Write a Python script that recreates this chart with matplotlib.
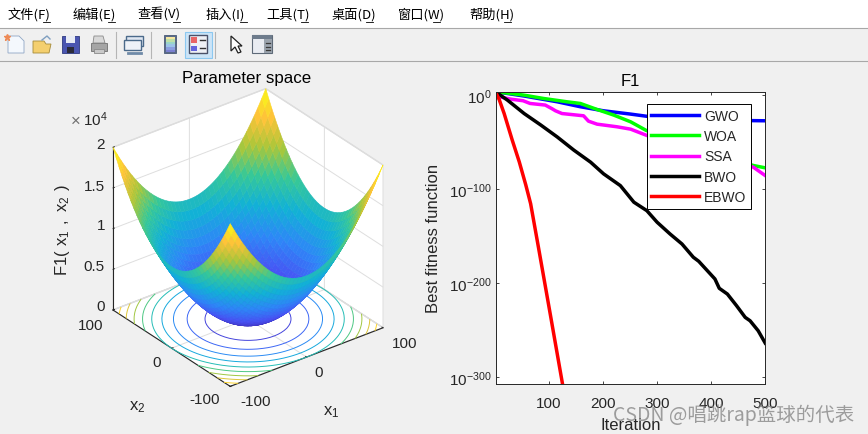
import numpy as np
import matplotlib
matplotlib.use('Agg')
import matplotlib.pyplot as plt
import matplotlib.patches as mpatches
from matplotlib.colors import LinearSegmentedColormap
from matplotlib.ticker import FixedLocator, FixedFormatter, NullLocator
from mpl_toolkits.mplot3d import proj3d

plt.rcParams['font.family'] = ['Liberation Sans', 'DejaVu Sans']
plt.rcParams['mathtext.default'] = 'regular'

# ---------- data ----------
MENU_LABELS = ['文件(F)', '编辑(E)', '查看(V)', '插入(I)', '工具(T)', '桌面(D)', '窗口(W)', '帮助(H)']

# surface: grid positions and the squared profile read along one axis
GRID_X = [-100, -95, -90, -85, -80, -75, -70, -65, -60, -55, -50, -45, -40, -35, -30, -25, -20, -15, -10, -5, 0,
          5, 10, 15, 20, 25, 30, 35, 40, 45, 50, 55, 60, 65, 70, 75, 80, 85, 90, 95, 100]
PROFILE_Z = [10000, 9025, 8100, 7225, 6400, 5625, 4900, 4225, 3600, 3025, 2500, 2025, 1600, 1225, 900, 625, 400, 225, 100, 25, 0,
             25, 100, 225, 400, 625, 900, 1225, 1600, 2025, 2500, 3025, 3600, 4225, 4900, 5625, 6400, 7225, 8100, 9025, 10000]
CONTOUR_LEVELS = [2000, 4000, 6000, 8000, 10000, 12000, 14000, 16000, 18000]

# convergence curves: iteration and log10(best fitness)
GWO_ITER = [1, 54, 115, 158, 201, 251, 287, 330, 372, 440, 500]
GWO_LOG = [3.6, -1.0, -7.1, -12.4, -16.7, -20.2, -23.0, -24.6, -25.9, -26.9, -27.3]
WOA_ITER = [1, 53, 90, 133, 158, 189, 220, 251, 280, 325, 372, 425, 478, 500]
WOA_LOG = [3.6, 0.0, -3.6, -7.1, -8.9, -15.3, -21.3, -28.4, -37.6, -46.0, -55.3, -65.0, -74.8, -77.3]
SSA_ITER = [1, 29, 52, 65, 93, 105, 112, 124, 164, 173, 189, 226, 251, 281, 325, 372, 425, 478, 500]
SSA_LOG = [-1.0, -4.3, -6.0, -8.9, -10.6, -14.3, -16.7, -19.6, -22.0, -27.7, -30.9, -33.7, -36.2, -42.9, -50.0, -58.9, -67.5, -76.6, -85.5]
BWO_ITER = [1, 23, 54, 85, 115, 146, 177, 201, 232, 257, 281, 300, 324, 346, 367, 377, 407, 415, 430, 447, 463, 472, 487, 500]
BWO_LOG = [3.5, -5.3, -19.6, -31.9, -44.4, -58.5, -71.3, -83.7, -96.2, -113.8, -122.8, -135.1, -147.6, -158.2, -172.3, -176.6,
           -195.4, -205.3, -211.4, -223.8, -236.2, -239.8, -250.4, -263.5]
EBWO_ITER = [1, 8, 17, 32, 45, 57, 66, 81, 103, 125]
EBWO_LOG = [3.5, -5.0, -19.6, -47.9, -71.0, -95.4, -115.4, -163.5, -235.0, -307.0]

SERIES_NAMES = ['GWO', 'WOA', 'SSA', 'BWO', 'EBWO']
SERIES_COLORS = ['#0000ff', '#00ff00', '#ff00ff', '#000000', '#ff0000']

X_TICKS = [100, 200, 300, 400, 500]
Y_TICKS = [1e0, 1e-100, 1e-200, 1e-300]
Y_TICK_LABELS = ['$10^{0}$', '$10^{-100}$', '$10^{-200}$', '$10^{-300}$']

PARULA = LinearSegmentedColormap.from_list('parula', [(0.2422, 0.1504, 0.6603), (0.2810, 0.3228, 0.9579),
                                                      (0.1786, 0.5289, 0.9682), (0.0689, 0.6948, 0.8394),
                                                      (0.2161, 0.7843, 0.5923), (0.6720, 0.7793, 0.2227),
                                                      (0.9970, 0.7659, 0.2199), (0.9769, 0.9839, 0.0805)])
TEXT_COLOR = '#262626'
W, H = 868, 435

fig = plt.figure(figsize=(W / 100, H / 100), dpi=100, facecolor='#f0f0f0')


def px_box(left, top, right, bottom):
    return [left / W, 1 - bottom / H, (right - left) / W, (bottom - top) / H]


# ---------- left: surface ----------
ax3 = fig.add_axes(px_box(48, 40, 448, 440), projection='3d', proj_type='ortho', computed_zorder=False)
ax3.set_facecolor('none')
ax3.view_init(elev=30, azim=-127.5)
ax3.set_box_aspect((1, 1, 0.976), zoom=1.0)
ax3.set_xlim(-100, 100)
ax3.set_ylim(-100, 100)
ax3.set_zlim(0, 20000)

gx, gy = np.meshgrid(GRID_X, GRID_X)
prof = np.array(PROFILE_Z, dtype=float)
gz = prof[:, None] + prof[None, :]
ax3.contour(gx, gy, gz, levels=CONTOUR_LEVELS, zdir='z', offset=0, cmap=PARULA, vmin=0, vmax=20000,
            linewidths=0.7, zorder=1)
surf = ax3.plot_surface(gx, gy, gz, cmap=PARULA, vmin=0, vmax=20000, rstride=1, cstride=1,
                        linewidth=0.4, antialiased=True, shade=False, zorder=2)
surf.set_edgecolor('face')

ax3.set_xticks([-100, 0, 100])
ax3.set_yticks([-100, 0, 100])
ax3.set_zticks([0, 5000, 10000, 15000, 20000])
ax3.set_xticklabels([])
ax3.set_yticklabels([])
ax3.set_zticklabels([])
for axis in (ax3.xaxis, ax3.yaxis, ax3.zaxis):
    axis.set_pane_color((1, 1, 1, 1))
    axis.pane.set_edgecolor('#d9d9d9')
    axis.line.set_color(TEXT_COLOR)
    axis.line.set_linewidth(0.8)
    axis._axinfo['grid'].update(color='#dedede', linewidth=0.7)
    axis._axinfo['tick'].update(inward_factor=0.0, outward_factor=0.12, linewidth={True: 0.6, False: 0.5})
ax3.tick_params(axis='both', colors=TEXT_COLOR)


def corner_px(x, y, z):
    u, v, _ = proj3d.proj_transform(x, y, z, ax3.get_proj())
    return ax3.transData.transform((u, v))


# fit the box on the pixels of the reference: left and right bottom corners
target_left, target_right = np.array([113.0, H - 311.0]), np.array([383.0, H - 328.0])
cur_left = corner_px(-100, 100, 0)
cur_right = corner_px(100, -100, 0)
scale = (target_right[0] - target_left[0]) / (cur_right[0] - cur_left[0])
pos = ax3.get_position()
ax3.set_position([pos.x0, pos.y0, pos.width * scale, pos.height * scale])
cur_left = corner_px(-100, 100, 0)
dx, dy = (target_left - cur_left) / np.array([W, H])
pos = ax3.get_position()
ax3.set_position([pos.x0 + dx, pos.y0 + dy, pos.width, pos.height])

# ---------- right: convergence ----------
ax = fig.add_axes(px_box(495.5, 92.7, 765.2, 385))
ax.set_facecolor('white')
series = [(GWO_ITER, GWO_LOG), (WOA_ITER, WOA_LOG), (SSA_ITER, SSA_LOG), (BWO_ITER, BWO_LOG), (EBWO_ITER, EBWO_LOG)]
for (it, lg), name, col in zip(series, SERIES_NAMES, SERIES_COLORS):
    ax.semilogy(it, np.power(10.0, lg), color=col, linewidth=2.5, label=name, solid_joinstyle='round')
ax.set_xlim(1, 500)
ax.set_ylim(10.0 ** -307, 10.0 ** 3.6)
ax.xaxis.set_major_locator(FixedLocator(X_TICKS))
ax.yaxis.set_major_locator(FixedLocator(Y_TICKS))
ax.yaxis.set_major_formatter(FixedFormatter(Y_TICK_LABELS))
ax.yaxis.set_minor_locator(NullLocator())
ax.tick_params(axis='both', direction='in', top=True, right=True, length=2.5, width=0.6,
               labelsize=11, labelcolor=TEXT_COLOR, color=TEXT_COLOR, pad=3)
ax.tick_params(axis='x', pad=8.8)
for s in ax.spines.values():
    s.set_linewidth(0.7)
    s.set_color(TEXT_COLOR)
ax.set_title('F1', fontsize=12, color='black', pad=5)
ax.set_xlabel('Iteration', fontsize=12, color=TEXT_COLOR, labelpad=5)
ax.set_ylabel('Best fitness function', fontsize=12, color=TEXT_COLOR, labelpad=5.5)
leg = ax.legend(loc='upper left', bbox_to_anchor=((646.7 - 495.5) / 269.7, 1 - (105 - 92.7) / 292.3),
                borderaxespad=0, fontsize=10, frameon=True, fancybox=False, framealpha=1, edgecolor='black',
                handlelength=3.4, handletextpad=0.42, labelspacing=0.46, borderpad=0.33, labelcolor=TEXT_COLOR)
leg.get_frame().set_linewidth(0.7)

# ---------- window chrome and overlay text, in pixels ----------
ov = fig.add_axes([0, 0, 1, 1], facecolor='none')
ov.set_xlim(0, W)
ov.set_ylim(H, 0)
ov.axis('off')

ov.add_patch(mpatches.Rectangle((0, 0), W, 28.5, facecolor='white', edgecolor='none'))
ov.plot([0, W], [29, 29], color='#a8a8a8', lw=0.8)
ov.plot([0, W], [62, 62], color='#a8a8a8', lw=0.8)
cjk = ['Noto Sans CJK SC', 'DejaVu Sans']
menu_x = [8, 73, 138, 205, 266, 331, 398, 469]
for label, mx in zip(MENU_LABELS, menu_x):
    ov.text(mx, 15, label, family=cjk, fontsize=9.5, color='black', va='center', ha='left')
    ov.plot([mx + 35, mx + 42], [23, 23], color='black', lw=0.6)


def rect(x0, y0, x1, y1, fc, ec='none', lw=0.6):
    ov.add_patch(mpatches.Rectangle((x0, y0), x1 - x0, y1 - y0, facecolor=fc, edgecolor=ec, linewidth=lw))


def poly(pts, fc, ec='none', lw=0.6):
    ov.add_patch(mpatches.Polygon(pts, closed=True, facecolor=fc, edgecolor=ec, linewidth=lw))


# new, open, save, print
poly([(8, 37), (19, 37), (24, 42), (24, 54), (8, 54)], '#f4f8fd', '#8fa6c4')
ov.plot([7], [38], marker='*', ms=5, color='#ee8a55')
poly([(33, 42), (44, 42), (46, 45), (51, 45), (49, 54), (33, 54)], '#f4cf6e', '#a58a3a')
ov.plot([42, 47, 50], [41, 37, 40], color='#7f9fc0', lw=1)
rect(62, 37, 79, 54, '#4a55b0', '#2f3a80')
rect(66, 37, 75, 44, '#e8ecf5')
rect(67, 48, 74, 54, '#2b2b3a')
rect(91, 44, 107, 52, '#a5a5a5', '#707070')
poly([(94, 37), (103, 37), (105, 44), (93, 44)], '#d8d8d8', '#8a8a8a')
rect(94, 50, 104, 54, '#c9c9c9', '#8a8a8a')
ov.plot([116, 116], [33, 59], color='#b5b5b5', lw=0.8)
# link
rect(126, 37, 143, 47, '#dfe7f2', '#4b6a8a', 1)
rect(124, 41, 141, 51, '#eef2f8', '#4b6a8a', 1)
ov.plot([128, 141], [54, 54], color='#6f8aa8', lw=2)
ov.plot([151, 151], [33, 59], color='#b5b5b5', lw=0.8)
# colorbar
rect(164, 36, 176, 54, '#5a6a88', '#4a5a78')
for i, col in enumerate(['#f6e7a0', '#bfe0a8', '#9ad6c8', '#9cc4e8', '#8a9ee0', '#7a80d0']):
    rect(165.5, 37.5 + i * 2.6, 174.5, 40.1 + i * 2.6, col)
# legend button, pressed
rect(184.5, 32.5, 211.5, 58.5, '#cce4f7', '#8cc8f0', 0.8)
rect(189, 36, 207, 54, '#eef0f5', '#4a5068', 1)
rect(191, 38, 197, 44, '#e86464')
rect(191, 47, 197, 52, '#6464dc')
ov.plot([200, 205], [41, 41], color='#333333', lw=1)
ov.plot([200, 205], [49, 49], color='#333333', lw=1)
ov.plot([215, 215], [33, 59], color='#b5b5b5', lw=0.8)
# arrow, panel
poly([(231, 37), (231, 52), (235, 48), (238, 54), (241, 53), (238, 47), (242, 47)], 'white', '#222222', 0.9)
rect(252, 36, 272, 54, '#e9ecf2', '#5e6a78', 0.8)
rect(252, 36, 272, 40, '#6e7c8c')
rect(264, 40, 272, 54, '#9aa3ad')
for yy in (44, 48, 51):
    ov.plot([266, 270], [yy, yy], color='#3a3a3a', lw=0.9)

# left panel texts
ov.text(247, 79, 'Parameter space', fontsize=12.2, color='black', ha='center', va='center')
ov.text(71, 121, '×', fontsize=12, color='#707070', ha='left', va='center')
ov.text(83, 120, '$10^{4}$', fontsize=11, color=TEXT_COLOR, ha='left', va='center')
ov.text(62, 230, '$F1(\\ x_1\\ ,\\ x_2\\ )$', fontsize=12, color=TEXT_COLOR, ha='center', va='center', rotation=90)
ov.text(137, 407, '$x_2$', fontsize=12, color=TEXT_COLOR, ha='center', va='center')
ov.text(331, 412, '$x_1$', fontsize=12, color=TEXT_COLOR, ha='center', va='center')
for lab, ty in zip(['0', '0.5', '1', '1.5', '2'], [307, 267, 226, 187, 145]):
    ov.text(105, ty, lab, fontsize=11, color=TEXT_COLOR, ha='right', va='center')
for lab, tx, ty in zip(['100', '0', '-100'], [91, 157, 205], [326, 363, 400]):
    ov.text(tx, ty, lab, fontsize=11, color=TEXT_COLOR, ha='center', va='center')
for lab, tx, ty in zip(['-100', '0', '100'], [256, 319, 405], [402, 373, 344]):
    ov.text(tx, ty, lab, fontsize=11, color=TEXT_COLOR, ha='center', va='center')

# watermark
ov.text(613, 415, 'CSDN @唱跳rap篮球的代表', family=cjk, fontsize=14, color='#808080', alpha=0.75, ha='left', va='center')

fig.savefig('out.png', dpi=100, facecolor=fig.get_facecolor())
